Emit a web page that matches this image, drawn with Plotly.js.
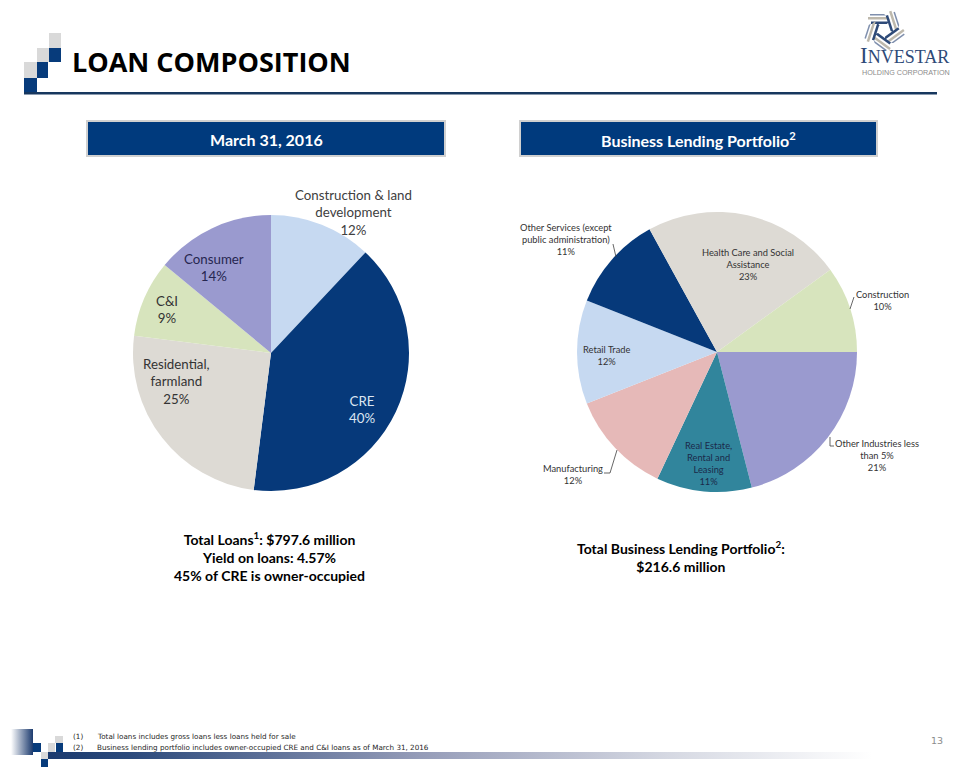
<!DOCTYPE html>
<html><head><meta charset="utf-8">
<script src="https://cdn.plot.ly/plotly-3.0.1.min.js"></script>
<style>html,body{margin:0;padding:0;background:#fff}</style>
</head><body><div id="chart" style="width:960px;height:768px"></div>
<script>
// ---------- data ----------
const loanCategories = ["Construction & land<br>development", "CRE", "Residential,<br>farmland", "C&I", "Consumer"];
const loanShares = [12, 40, 25, 9, 14];
const loanColors = ["#C6D9F1", "#06397A", "#DDDAD4", "#D7E4BD", "#9A9ACF"];

const blpCategories = ["Other Industries less<br>than 5%", "Real Estate,<br>Rental and<br>Leasing", "Manufacturing", "Retail Trade",
  "Other Services (except<br>public administration)", "Health Care and Social<br>Assistance", "Construction"];
const blpShares = [21, 11, 12, 12, 11, 23, 10];
const blpColors = ["#9A9ACF", "#31859C", "#E6B9B8", "#C6D9F1", "#06397A", "#DDDAD4", "#D7E4BD"];

const pageTitle = "LOAN COMPOSITION";
const leftHeader = "March 31, 2016";
const rightHeader = "Business Lending Portfolio<sup>2</sup>";
const leftSummary = ["Total Loans<sup>1</sup>: $797.6 million", "Yield on loans: 4.57%", "45% of CRE is owner-occupied"];
const rightSummary = ["Total Business Lending Portfolio<sup>2</sup>:", "$216.6 million"];
const footnotes = ["Total loans includes gross loans less loans held for sale",
  "Business lending portfolio includes owner-occupied CRE and C&I loans as of March 31, 2016"];
const pageNumber = "13";

// ---------- helpers (pixel -> paper) ----------
const W = 960, H = 768;
const X = px => px / W;
const Y = py => 1 - py / H;
const NAVY = "#073B7B", GRAY = "#D9D9D9";
const FONT = "Lato, 'Open Sans', sans-serif";

function rect(x0, y0, x1, y1, fill, line) {
  return {type: "rect", xref: "paper", yref: "paper", x0: X(x0), x1: X(x1), y0: Y(y1), y1: Y(y0),
    fillcolor: fill, line: line || {width: 0}, layer: "above"};
}
function pathOf(pts, close) {
  return pts.map((p, i) => (i ? "L" : "M") + X(p[0]).toFixed(5) + "," + Y(p[1]).toFixed(5)).join(" ") + (close ? " Z" : "");
}
function poly(pts, color, width) {
  return {type: "path", xref: "paper", yref: "paper", path: pathOf(pts, false), line: {color: color, width: width}, layer: "above"};
}
function ann(text, x, y, size, color, opts) {
  return Object.assign({text: text, x: X(x), y: Y(y), xref: "paper", yref: "paper", showarrow: false,
    xanchor: "center", yanchor: "middle", font: {family: FONT, size: size, color: color}}, opts || {});
}

// ---------- traces ----------
const traces = [
  {type: "pie", labels: loanCategories, values: loanShares, sort: false, direction: "clockwise", rotation: 0,
    marker: {colors: loanColors, line: {width: 0}}, textinfo: "none", hoverinfo: "label+percent", showlegend: false,
    domain: {x: [X(133), X(409)], y: [Y(491), Y(215)]}},
  {type: "pie", labels: blpCategories, values: blpShares, sort: false, direction: "clockwise", rotation: 90,
    marker: {colors: blpColors, line: {width: 0}}, textinfo: "none", hoverinfo: "label+percent", showlegend: false,
    domain: {x: [X(577), X(857)], y: [Y(492), Y(212)]}}
];

// ---------- shapes ----------
const shapes = [];
// top-left step squares
shapes.push(rect(49, 33, 61, 48, GRAY));
shapes.push(rect(37, 48, 49, 62, GRAY));
shapes.push(rect(49, 48, 61, 62, NAVY));
shapes.push(rect(24, 62, 37, 78, GRAY));
shapes.push(rect(37, 62, 48, 78, NAVY));
shapes.push(rect(24, 78, 37, 92, NAVY));
// header rule
shapes.push(rect(24, 92, 937, 94.5, "#17375E"));
// header boxes
shapes.push(rect(87, 121, 445, 156, "#003A7D", {color: "#D0D0D0", width: 2}));
shapes.push(rect(520, 121, 877, 156, "#003A7D", {color: "#D0D0D0", width: 2}));
// leader lines (right pie)
const LC = "#404040";
shapes.push(poly([[613, 244], [616, 257]], LC, 0.8));
shapes.push(poly([[854, 297], [850, 309]], LC, 0.8));
shapes.push(poly([[604, 473], [610, 473], [617, 450]], LC, 0.8));
shapes.push(poly([[830, 437], [830, 446], [834, 446]], LC, 0.8));
// bottom-left squares
shapes.push(rect(55, 736, 63, 743, GRAY));
shapes.push(rect(33, 743, 41, 752, NAVY));
shapes.push(rect(48, 743, 55, 752, GRAY));
shapes.push(rect(56, 743, 63, 752, NAVY));
shapes.push(rect(41, 752, 48, 759, GRAY));
shapes.push(rect(41, 759, 48, 767, NAVY));
// logo: swirl of blades
(function () {
  const cx = 884, cy = 30;
  for (let k = 0; k < 5; k++) {
    const a = (k * 72 - 90) * Math.PI / 180;       // outward direction
    const t = a + Math.PI / 2;                      // tangent direction
    const P = (r, s) => [cx + r * Math.cos(a) + s * Math.cos(t), cy + r * Math.sin(a) + s * Math.sin(t)];
    shapes.push({type: "path", xref: "paper", yref: "paper", path: pathOf([P(6, -13), P(8.5, -13), P(8.5, 5), P(6, 3)], true),
      fillcolor: "#2E4A78", line: {width: 0}, layer: "above"});
    shapes.push({type: "path", xref: "paper", yref: "paper", path: pathOf([P(10.5, -16), P(13, -16), P(13, 3), P(10.5, 6)], true),
      fillcolor: "#BDB8AC", line: {width: 0}, layer: "above"});
    shapes.push({type: "path", xref: "paper", yref: "paper", path: pathOf([P(14.5, -14), P(16, -14), P(16, 0), P(14.5, 2)], true),
      fillcolor: "#7F8FAD", line: {width: 0}, layer: "above"});
  }
})();

// ---------- gradient images ----------
function gradSvg(stops) {
  const s = '<svg xmlns="http://www.w3.org/2000/svg" width="100" height="10" preserveAspectRatio="none">' +
    '<defs><linearGradient id="g" x1="0" x2="1" y1="0" y2="0">' +
    stops.map(st => '<stop offset="' + st[0] + '" stop-color="' + st[1] + '"/>').join("") +
    '</linearGradient></defs><rect width="100" height="10" fill="url(#g)"/></svg>';
  return "data:image/svg+xml;base64," + btoa(s);
}
const images = [
  {source: gradSvg([[0, "#FFFFFF"], [1, "#1B3A6E"]]), xref: "paper", yref: "paper", x: X(11), y: Y(729),
    sizex: X(33) - X(11), sizey: Y(729) - Y(755), sizing: "stretch", xanchor: "left", yanchor: "top", layer: "above"},
  {source: gradSvg([[0, "#1B3A6E"], [0.1, "#2C4A7C"], [0.45, "#959CB8"], [0.75, "#D5D8E2"], [1, "#FFFFFF"]]),
    xref: "paper", yref: "paper", x: X(48), y: Y(752), sizex: X(872) - X(48), sizey: Y(752) - Y(759),
    sizing: "stretch", xanchor: "left", yanchor: "top", layer: "above"}
];

// ---------- annotations ----------
const annotations = [];
annotations.push(ann("<b>" + pageTitle + "</b>", 70, 62, 27, "#000000",
  {xanchor: "left", font: {family: "'Open Sans', sans-serif", size: 27, color: "#000"}}));
annotations.push(ann("<b>" + leftHeader + "</b>", 266, 139, 16, "#FFFFFF"));
annotations.push(ann("<b>" + rightHeader + "</b>", 698, 139, 16, "#FFFFFF"));

// left pie labels
const loanLabelPos = [[353, 212], [362, 409], [176, 381], [167, 310], [214, 268]];
const loanLabelColor = ["#404040", "#DCE6F2", "#333333", "#333333", "#262650"];
loanCategories.forEach((c, i) => {
  annotations.push(ann(c + "<br>" + loanShares[i] + "%", loanLabelPos[i][0], loanLabelPos[i][1], 13.3, loanLabelColor[i]));
});
// right pie labels
const blpLabelPos = [[877, 455], [708, 463], [573, 474.5], [606, 355.5], [566, 239], [748, 265], [882, 301]];
const blpLabelColor = ["#333333", "#1B2A4A", "#333333", "#333333", "#333333", "#333333", "#333333"];
blpCategories.forEach((c, i) => {
  annotations.push(ann(c + "<br>" + blpShares[i] + "%", blpLabelPos[i][0], blpLabelPos[i][1], 9.3, blpLabelColor[i]));
});

// summaries
annotations.push(ann("<b>" + leftSummary.join("<br>") + "</b>", 269, 556, 14, "#000000"));
annotations.push(ann("<b>" + rightSummary.join("<br>") + "</b>", 681, 556.5, 14, "#000000"));

// logo text
annotations.push(ann('<span style="font-size:23px">I</span>NVESTAR', 858, 55, 18, "#2E4A78",
  {xanchor: "left", font: {family: "'Liberation Serif', 'DejaVu Serif', serif", size: 18, color: "#2E4A78"}}));
annotations.push(ann("HOLDING CORPORATION", 860, 72, 7.2, "#8C8C8C",
  {xanchor: "left", font: {family: "'Liberation Sans', Arial, sans-serif", size: 7.2, color: "#8C8C8C"}}));

// footnotes
footnotes.forEach((f, i) => {
  const yy = 736 + i * 11.5;
  const fnt = {family: "'DejaVu Sans', sans-serif", size: 7.2, color: "#262626"};
  annotations.push(ann("(" + (i + 1) + ")", 71, yy, 7.2, "#262626", {xanchor: "left", font: fnt}));
  annotations.push(ann(f, 95, yy, 7.2, "#262626", {xanchor: "left", font: fnt}));
});
annotations.push(ann(pageNumber, 937, 740, 10, "#8C8C8C", {font: {family: "'DejaVu Sans', sans-serif", size: 9.5, color: "#8C8C8C"}}));

const layout = {
  width: W, height: H, margin: {l: 0, r: 0, t: 0, b: 0},
  paper_bgcolor: "#FFFFFF", plot_bgcolor: "#FFFFFF",
  shapes: shapes, annotations: annotations, images: images, showlegend: false
};
Plotly.newPlot("chart", traces, layout, {displayModeBar: false, staticPlot: true});
</script></body></html>
